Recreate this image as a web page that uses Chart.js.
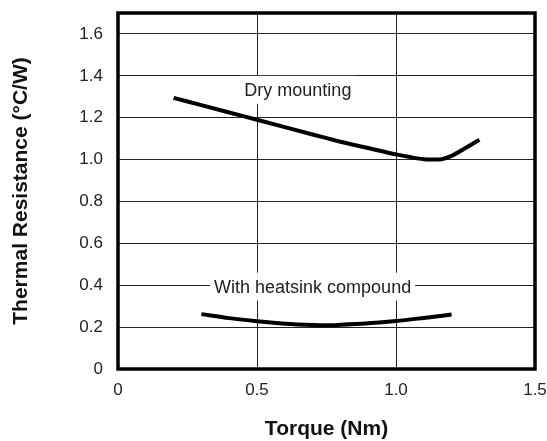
<!DOCTYPE html>
<html>
<head>
<meta charset="utf-8">
<script src="https://cdn.jsdelivr.net/npm/chart.js@4"></script>
<style>
  body { margin: 0; background: #fff; }
</style>
</head>
<body>
<canvas id="thermalChart" width="547" height="441"></canvas>
<script>
const xTicks = [0, 0.5, 1.0, 1.5];
const yTicks = [0, 0.2, 0.4, 0.6, 0.8, 1.0, 1.2, 1.4, 1.6];

// Dry mounting curve
const dryTorque = [0.2, 0.3, 0.4, 0.5, 0.6, 0.7, 0.8, 0.9, 1.0, 1.05, 1.1, 1.15, 1.2, 1.25, 1.3];
const dryResistance = [1.295, 1.26, 1.225, 1.19, 1.155, 1.12, 1.085, 1.055, 1.025, 1.012, 1.002, 1.0, 1.018, 1.055, 1.095];

// With heatsink compound curve
const pasteTorque = [0.3, 0.4, 0.5, 0.6, 0.7, 0.75, 0.8, 0.9, 1.0, 1.1, 1.2];
const pasteResistance = [0.262, 0.243, 0.228, 0.216, 0.21, 0.209, 0.211, 0.218, 0.229, 0.244, 0.26];

const curveLabels = [
  { text: "Dry mounting", x: 0.647, y: 1.333 },
  { text: "With heatsink compound", x: 0.70, y: 0.393 }
];

const fontFamily = "'Liberation Sans', Arial, Helvetica, sans-serif";

function toPoints(xs, ys) {
  return xs.map((x, i) => ({ x, y: ys[i] }));
}

function fmt(v) {
  return v === 0 ? "0" : v.toFixed(1);
}

// white boxes with the curve names, drawn over the grid
const labelPlugin = {
  id: "curveLabels",
  beforeDatasetsDraw(chart) {
    const ctx = chart.ctx;
    const xs = chart.scales.x;
    const ys = chart.scales.y;
    ctx.save();
    ctx.font = "18px " + fontFamily;
    ctx.textAlign = "center";
    ctx.textBaseline = "middle";
    curveLabels.forEach(l => {
      const cx = xs.getPixelForValue(l.x);
      const cy = ys.getPixelForValue(l.y);
      const w = ctx.measureText(l.text).width + 8;
      ctx.fillStyle = "#fff";
      ctx.fillRect(cx - w / 2, cy - 14, w, 28);
      ctx.fillStyle = "#222";
      ctx.fillText(l.text, cx, cy + 1);
    });
    ctx.restore();
  }
};

// heavy frame round the plot area
const framePlugin = {
  id: "frame",
  afterDatasetsDraw(chart) {
    const { left, top, right, bottom } = chart.chartArea;
    const ctx = chart.ctx;
    ctx.save();
    ctx.strokeStyle = "#000";
    ctx.lineWidth = 3.5;
    ctx.strokeRect(left, top, right - left, bottom - top);
    ctx.restore();
  }
};

const ctx = document.getElementById("thermalChart").getContext("2d");
new Chart(ctx, {
  type: "line",
  data: {
    datasets: [
      {
        label: "Dry mounting",
        data: toPoints(dryTorque, dryResistance),
        borderColor: "#000",
        borderWidth: 4,
        pointRadius: 0,
        cubicInterpolationMode: "monotone",
        fill: false
      },
      {
        label: "With heatsink compound",
        data: toPoints(pasteTorque, pasteResistance),
        borderColor: "#000",
        borderWidth: 4,
        pointRadius: 0,
        cubicInterpolationMode: "monotone",
        fill: false
      }
    ]
  },
  options: {
    responsive: false,
    animation: false,
    layout: { padding: { top: 13, right: 12, left: 0, bottom: 0 } },
    plugins: {
      legend: { display: false },
      tooltip: { enabled: false }
    },
    scales: {
      x: {
        type: "linear",
        min: 0,
        max: 1.5,
        afterBuildTicks: s => { s.ticks = xTicks.map(v => ({ value: v })); },
        afterFit: s => {
          s.height = 72;
          s.paddingLeft = 0;
          s.paddingRight = 0;
        },
        border: { display: false },
        grid: { color: "#222", lineWidth: 1, drawTicks: false },
        ticks: {
          padding: 11,
          color: "#222",
          font: { family: fontFamily, size: 17 },
          callback: v => fmt(v)
        },
        title: {
          display: true,
          text: "Torque (Nm)",
          color: "#111",
          font: { family: fontFamily, size: 21, weight: "bold", lineHeight: 1 },
          padding: { top: 0, bottom: 1 }
        }
      },
      y: {
        type: "linear",
        min: 0,
        max: 1.7,
        afterBuildTicks: s => { s.ticks = yTicks.map(v => ({ value: v })); },
        afterFit: s => {
          s.width = 118;
          s.paddingTop = 0;
          s.paddingBottom = 0;
        },
        border: { display: false },
        grid: { color: "#222", lineWidth: 1, drawTicks: false },
        ticks: {
          padding: 15,
          color: "#222",
          font: { family: fontFamily, size: 17 },
          callback: v => fmt(v)
        },
        title: {
          display: true,
          text: "Thermal Resistance (°C/W)",
          color: "#111",
          font: { family: fontFamily, size: 21, weight: "bold", lineHeight: 1 },
          padding: { top: 11, bottom: 0 }
        }
      }
    }
  },
  plugins: [labelPlugin, framePlugin]
});
</script>
</body>
</html>
